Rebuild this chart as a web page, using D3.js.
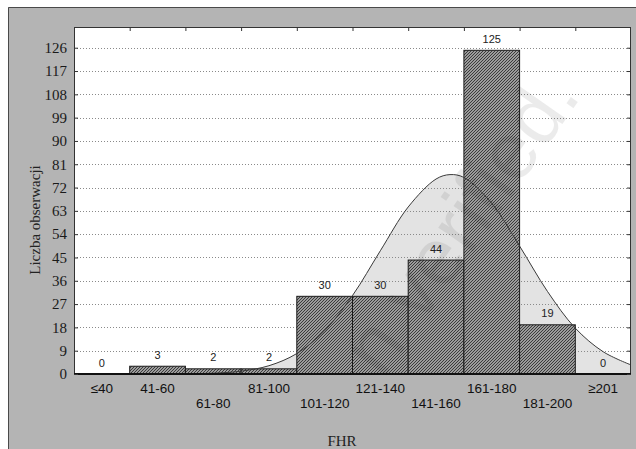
<!DOCTYPE html>
<html>
<head>
<meta charset="utf-8">
<script src="https://cdn.jsdelivr.net/npm/d3@7"></script>
<style>
body { margin: 0; background: #fff; overflow: hidden; }
</style>
</head>
<body>
<div id="root"></div>
<script>
// histogram bins (FHR) and counts
const categories = ["≤40", "41-60", "61-80", "81-100", "101-120", "121-140", "141-160", "161-180", "181-200", "≥201"];
const counts = [0, 3, 2, 2, 30, 30, 44, 125, 19, 0];
// which row each x label sits on (0 = upper, 1 = lower)
const labelRows = [0, 0, 1, 0, 1, 0, 1, 0, 1, 0];
const yTicks = [0, 9, 18, 27, 36, 45, 54, 63, 72, 81, 90, 99, 108, 117, 126];

// fitted curve, read at points along the FHR axis
const curveFhr = [20.5, 30.5, 40.5, 50.5, 60.5, 70.5, 80.5, 90.5, 100.5, 110.5, 120.5, 130.5, 140.5, 150.5, 155.5, 160.5, 170.5, 180.5, 190.5, 200.5, 210.5, 220.5];
const curveVal = [0, 0, 0, 0, 0.1, 0.3, 1.1, 3.2, 7.9, 16.7, 30.3, 47.6, 64.5, 75.3, 77.0, 75.9, 65.9, 49.4, 31.9, 17.7, 8.6, 3.5];
const fhrDomain = [20.5, 220.5];

const w = 636;
const h = 449;
const margin = {top: 27, bottom: 75, left: 74, right: 5};

const svg = d3.select("#root")
    .append("svg")
    .attr("width", w)
    .attr("height", h);

// hatch fill for the bars
const pat = svg.append("defs")
    .append("pattern")
    .attr("id", "hatch")
    .attr("patternUnits", "userSpaceOnUse")
    .attr("width", 3)
    .attr("height", 3);
pat.append("rect").attr("width", 3).attr("height", 3).attr("fill", "#c6c6c6");
pat.append("path")
    .attr("d", "M-1,1 l2,-2 M0,3 l3,-3 M2,4 l2,-2")
    .attr("stroke", "#333")
    .attr("stroke-width", 1.1);

// grey frame
svg.append("rect")
    .attr("x", 8).attr("y", 7)
    .attr("width", w - 8).attr("height", h - 7)
    .attr("fill", "#b4b4b4");
svg.append("path")
    .attr("d", "M8.5," + h + " V7.5 H" + w)
    .attr("fill", "none")
    .attr("stroke", "#4a4a4a");

const x = d3.scaleBand()
    .domain(categories)
    .range([margin.left, w - margin.right]);
const xLin = d3.scaleLinear()
    .domain(fhrDomain)
    .range([margin.left, w - margin.right]);
const y = d3.scaleLinear()
    .domain([0, 134])
    .range([h - margin.bottom, margin.top]);

// plot background
svg.append("rect")
    .attr("x", margin.left).attr("y", margin.top)
    .attr("width", w - margin.left - margin.right)
    .attr("height", h - margin.top - margin.bottom)
    .attr("fill", "#fff");

// area under the curve
const curvePts = curveFhr.map((f, i) => [f, curveVal[i]]);
svg.append("path")
    .datum(curvePts)
    .attr("fill", "#e3e3e3")
    .attr("d", d3.area()
        .x(d => xLin(d[0]))
        .y0(y(0))
        .y1(d => y(d[1]))
        .curve(d3.curveCatmullRom));

// dotted gridlines
svg.append("g")
    .selectAll("line")
    .data(yTicks.filter(d => d > 0))
    .enter()
    .append("line")
    .attr("x1", margin.left).attr("x2", w - margin.right)
    .attr("y1", d => Math.round(y(d)) + 0.5)
    .attr("y2", d => Math.round(y(d)) + 0.5)
    .attr("stroke", "#8a8a8a")
    .attr("stroke-dasharray", "1,2");

// bars
svg.append("g")
    .selectAll("rect")
    .data(counts)
    .enter()
    .append("rect")
    .attr("x", (d, i) => x(categories[i]))
    .attr("y", d => y(d))
    .attr("width", x.bandwidth())
    .attr("height", d => y(0) - y(d))
    .attr("fill", "url(#hatch)")
    .attr("stroke", d => d > 0 ? "#1a1a1a" : "none")
    .attr("stroke-width", 1);

// curve line over the bars
svg.append("path")
    .datum(curvePts)
    .attr("fill", "none")
    .attr("stroke", "#3a3a3a")
    .attr("stroke-width", 1)
    .attr("d", d3.line()
        .x(d => xLin(d[0]))
        .y(d => y(d[1]))
        .curve(d3.curveCatmullRom));

// count labels above bars
svg.append("g")
    .selectAll("text")
    .data(counts)
    .enter()
    .append("text")
    .attr("x", (d, i) => x(categories[i]) + x.bandwidth() / 2)
    .attr("y", d => y(d) - 7.5)
    .attr("text-anchor", "middle")
    .attr("font-family", "Liberation Sans, Arial, sans-serif")
    .attr("font-size", 11)
    .attr("fill", "#222")
    .text(d => d);

// plot border
svg.append("rect")
    .attr("x", margin.left + 0.5).attr("y", margin.top + 0.5)
    .attr("width", w - margin.left - margin.right - 1)
    .attr("height", h - margin.top - margin.bottom - 1)
    .attr("fill", "none")
    .attr("stroke", "#333");
svg.append("line")
    .attr("x1", margin.left).attr("x2", w - margin.right)
    .attr("y1", y(0)).attr("y2", y(0))
    .attr("stroke", "#111")
    .attr("stroke-width", 2);

// y axis (left) with labels, ticks inward
const yAxis = d3.axisLeft(y)
    .tickValues(yTicks)
    .tickSizeInner(-4)
    .tickSizeOuter(0)
    .tickPadding(7);
const gy = svg.append("g")
    .attr("transform", "translate(" + margin.left + ",0)")
    .call(yAxis);
gy.select(".domain").remove();
gy.selectAll("line").attr("stroke", "#333");
gy.selectAll("text")
    .attr("font-family", "Liberation Serif, Times New Roman, serif")
    .attr("font-size", 15)
    .attr("fill", "#1a1a1a");

// right side ticks
const gr = svg.append("g")
    .attr("transform", "translate(" + (w - margin.right) + ",0)")
    .call(d3.axisRight(y).tickValues(yTicks).tickSizeInner(-4).tickSizeOuter(0).tickFormat(""));
gr.select(".domain").remove();
gr.selectAll("line").attr("stroke", "#333");

// top ticks at bin edges
const gt = svg.append("g")
    .attr("transform", "translate(0," + margin.top + ")")
    .call(d3.axisTop(xLin).tickValues(d3.range(1, categories.length).map(i => fhrDomain[0] + i * 20)).tickSizeInner(-4).tickSizeOuter(0).tickFormat(""));
gt.select(".domain").remove();
gt.selectAll("line").attr("stroke", "#333");

// x labels in two staggered rows
svg.append("g")
    .selectAll("text")
    .data(categories)
    .enter()
    .append("text")
    .attr("x", d => x(d) + x.bandwidth() / 2)
    .attr("y", (d, i) => labelRows[i] ? 407.5 : 393)
    .attr("text-anchor", "middle")
    .attr("font-family", "Liberation Sans, Arial, sans-serif")
    .attr("font-size", 13.5)
    .attr("fill", "#111")
    .text(d => d);

// axis titles
svg.append("text")
    .attr("x", 342)
    .attr("y", 446)
    .attr("text-anchor", "middle")
    .attr("font-family", "Liberation Serif, Times New Roman, serif")
    .attr("font-size", 15)
    .attr("fill", "#222")
    .text("FHR");
svg.append("text")
    .attr("transform", "translate(40,220) rotate(-90)")
    .attr("text-anchor", "middle")
    .attr("font-family", "Liberation Serif, Times New Roman, serif")
    .attr("font-size", 15)
    .attr("fill", "#222")
    .text("Liczba obserwacji");

// faint watermark
svg.append("text")
    .attr("transform", "translate(582,96) rotate(-55)")
    .attr("text-anchor", "end")
    .attr("font-family", "Liberation Sans, Arial, sans-serif")
    .attr("font-size", 80)
    .attr("fill", "#000")
    .attr("fill-opacity", 0.08)
    .text("n verified.");
</script>
</body>
</html>
